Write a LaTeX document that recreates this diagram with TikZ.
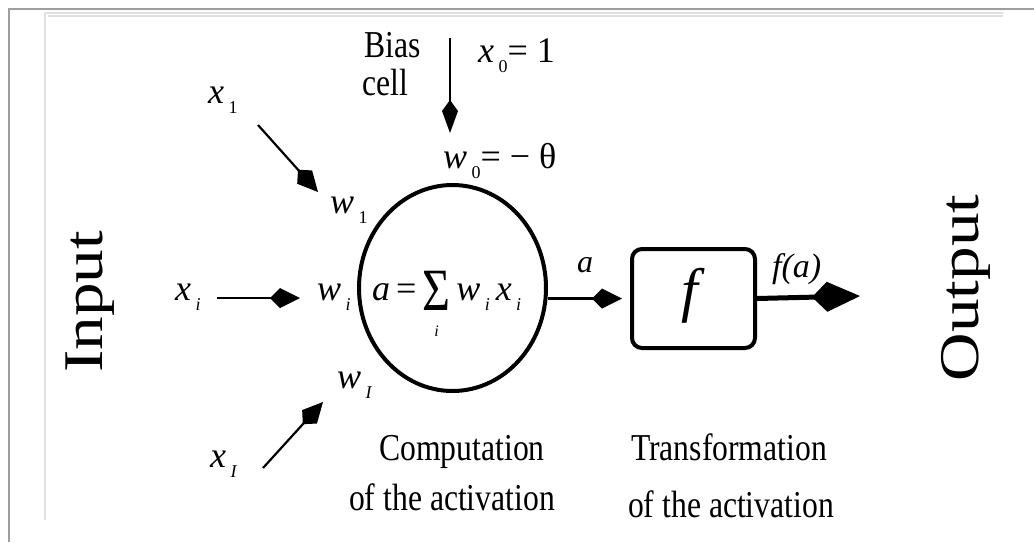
\documentclass[tikz,border=0pt]{standalone}
\usepackage{fontspec}
\newfontfamily\txtfont[FakeStretch=0.833]{Liberation Serif}
\newfontfamily\mlfont{Liberation Serif}
\newfontfamily\mlit{Liberation Serif Italic}
\newfontfamily\rotfont[FakeStretch=1.2]{Liberation Serif}
\usetikzlibrary{arrows.meta,shapes.geometric}
\newcommand\iv[1]{{\mlit #1}}
\newcommand\sbs[1]{\hspace{0.12em}\raisebox{-0.3em}{\fontsize{18}{18}\selectfont #1}}
\newcommand\sumi{\vtop{\halign{\hfil##\hfil\cr\raisebox{-10pt}{\scalebox{0.8}[1]{\fontsize{60}{60}\selectfont Σ}}\cr\noalign{\kern-4pt}{\fontsize{16}{16}\selectfont\mlit i}\cr}}}
\begin{document}
\begin{tikzpicture}[x=1pt,y=-1pt,
  txt/.style={inner sep=0pt,font=\txtfont\fontsize{38}{44}\selectfont},
  ml/.style={inner sep=0pt,font=\mlfont\fontsize{36}{40}\selectfont},
  rotlbl/.style={inner sep=0pt,rotate=90,anchor=base,font=\rotfont\fontsize{56}{60}\selectfont},
  arr/.style={line width=2.2pt,-{Kite[length=30pt,width=20pt,inset=10pt]}},
  bigarr/.style={line width=5pt,-{Kite[length=48pt,width=30pt,inset=15pt]}},
  frameline/.style={line width=2pt,draw=black!38},
  lightline/.style={line width=1.5pt,draw=black!12}]
\useasboundingbox (0,0) rectangle (1034,542);
% frame
\draw[frameline] (9,542) -- (9,9) -- (1034,9);
\draw[lightline] (44,13) -- (1003,13);
\draw[lightline] (48,16) -- (1003,16);
\draw[lightline] (45,13) -- (45,520);
% rotated labels
\node[rotlbl] (inp) at (102,302) {Input};
\node[rotlbl] (outp) at (978,288) {Output};
% neuron
\node[draw,ellipse,line width=4pt,minimum width=187pt,minimum height=206pt,inner sep=0pt] (neuron) at (452.5,288) {};
\node[ml,anchor=base west] (formula) at (372,300) {\iv{a}\,=\,\sumi\,\iv{w}\sbs{\iv{i}}\,\iv{x}\sbs{\iv{i}}};
% bias
\node[txt,anchor=base west] (bias) at (364,57) {Bias};
\node[txt,anchor=base west] (cell) at (362,95) {cell};
\node[ml,anchor=base west] (x0) at (478,62) {\iv{x}\sbs{0}= 1};
\node[ml,anchor=base west] (w0) at (443,168) {\iv{w}\sbs{0}= − θ};
\coordinate (b0) at (450,38);
\coordinate (b1) at (450,133);
\draw[line width=2.2pt,-{Kite[length=33pt,width=16pt,inset=11pt]}] (b0) -- (b1);
% inputs
\node[ml,anchor=base west] (x1) at (208,103) {\iv{x}\sbs{1}};
\node[ml,anchor=base west] (w1) at (330,213) {\iv{w}\sbs{1}};
\coordinate (x1s) at (258,125);
\coordinate (x1e) at (318,192);
\draw[arr] (x1s) -- (x1e);
\node[ml,anchor=base west] (xi) at (175,300) {\iv{x}\sbs{\iv{i}}};
\node[ml,anchor=base west] (wi) at (317,300) {\iv{w}\sbs{\iv{i}}};
\coordinate (xis) at (217,298);
\coordinate (xie) at (300,298);
\draw[arr] (xis) -- (xie);
\node[ml,anchor=base west] (wI) at (337,388) {\iv{w}\sbs{\iv{I}}};
\node[ml,anchor=base west] (xI) at (210,467) {\iv{x}\sbs{\iv{I}}};
\coordinate (xIs) at (263,468);
\coordinate (xIe) at (323,402);
\draw[arr] (xIs) -- (xIe);
% captions
\node[txt,anchor=base] (comp1) at (462,460) {Computation};
\node[txt,anchor=base] (comp2) at (452,510) {of the activation};
\node[txt,anchor=base] (tr1) at (729,460) {Transformation};
\node[txt,anchor=base] (tr2) at (731,517) {of the activation};
% transfer box
\node[draw,line width=4pt,rounded corners=10pt,minimum width=123pt,minimum height=99pt,inner sep=0pt] (fbox) at (693.5,298.5) {};
\node[inner sep=0pt,anchor=base,font=\mlit\fontsize{60}{64}\selectfont] (f) at (690,310) {f};
\node[inner sep=0pt,anchor=base,font=\mlit\fontsize{32}{36}\selectfont] (alab) at (585,272) {a};
\node[inner sep=0pt,anchor=base west,font=\mlit\fontsize{34}{38}\selectfont] (fa) at (772,277) {f(a)};
\coordinate (outtip) at (860,296);
\draw[arr,shorten >=8pt] (fbox.west -| neuron.east) -- (fbox.west);
\draw[bigarr] (fbox.east) -- (outtip);
\end{tikzpicture}
\end{document}
